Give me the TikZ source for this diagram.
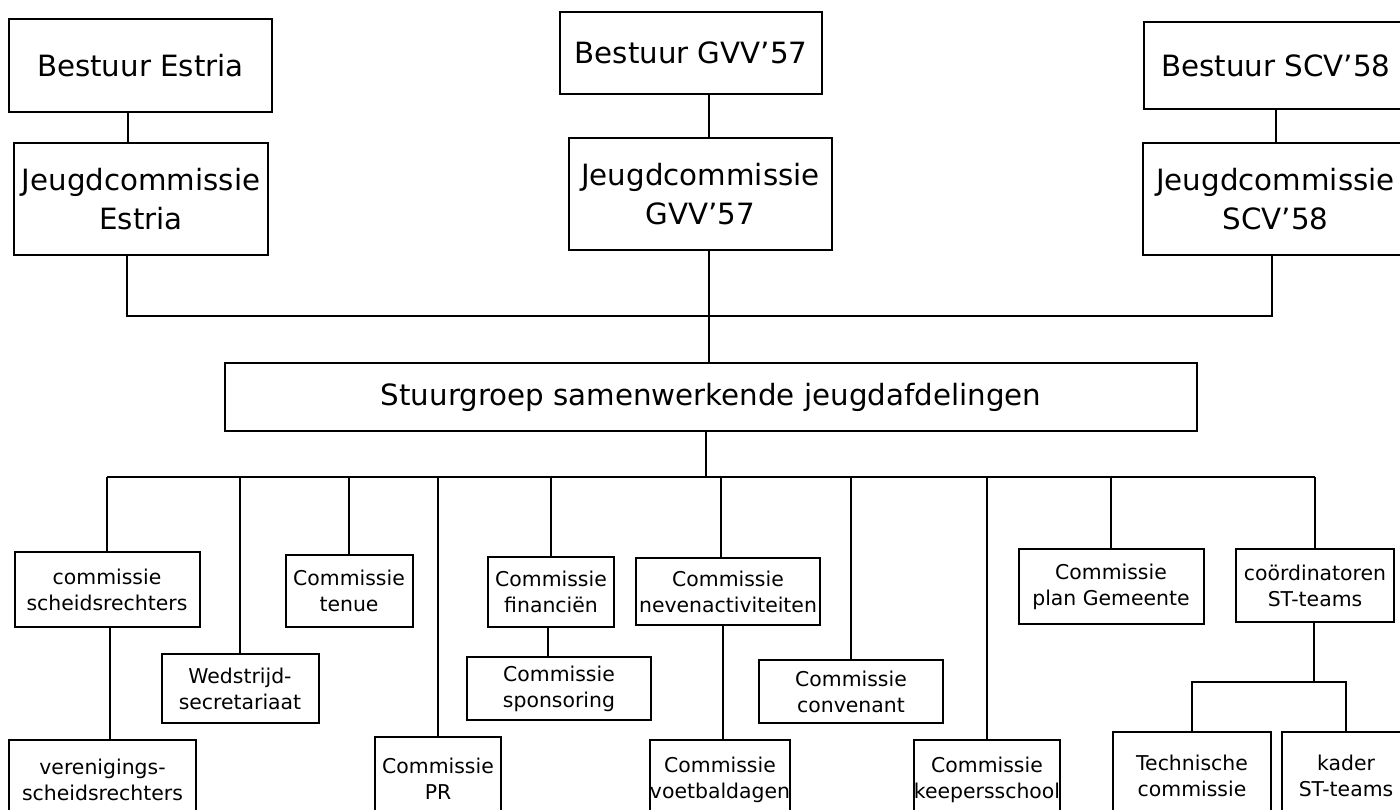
\documentclass[tikz,border=0pt]{standalone}
\usepackage{fontspec}
\setmainfont{DejaVu Sans}
\begin{document}
\begin{tikzpicture}[x=1pt,y=-1pt,
  box/.style={draw=black, line width=2pt, align=center, inner sep=0pt, text=black},
  big/.style={font=\fontsize{29.3}{39}\selectfont},
  small/.style={font=\fontsize{20.4}{26}\selectfont},
  con/.style={draw=black, line width=2pt}]
\useasboundingbox (0,0) rectangle (1400,809);
\clip (0,0) rectangle (1400,809);
\fill[white] (0,0) rectangle (1400,809);
% top level
\node[box,big,minimum width=263pt,minimum height=93pt] (best1) at (140.5,65.5) {Bestuur Estria};
\node[box,big,minimum width=254pt,minimum height=112pt] (j1) at (141,199) {Jeugdcommissie\\Estria};
\node[box,big,minimum width=262pt,minimum height=82pt] (best2) at (691,53) {Bestuur GVV'57};
\node[box,big,minimum width=263pt,minimum height=112pt] (j2) at (700.5,194) {Jeugdcommissie\\GVV'57};
\node[box,big,minimum width=264pt,minimum height=87pt] (best3) at (1276,65.5) {Bestuur SCV'58};
\node[box,big,minimum width=265pt,minimum height=112pt] (j3) at (1275.5,199) {Jeugdcommissie\\SCV'58};
\node[box,big,minimum width=972pt,minimum height=68pt] (stuur) at (711,397) {Stuurgroep samenwerkende jeugdafdelingen};
% commissions
\node[box,small,minimum width=185pt,minimum height=75pt] (cs) at (107,589.5) {commissie\\scheidsrechters};
\node[box,small,minimum width=187pt,minimum height=80pt] (ver) at (102.5,780) {verenigings-\\scheidsrechters};
\node[box,small,minimum width=157pt,minimum height=69pt] (wed) at (240,688.5) {Wedstrijd-\\secretariaat};
\node[box,small,minimum width=127pt,minimum height=72pt] (tenue) at (349,591) {Commissie\\tenue};
\node[box,small,minimum width=126pt,minimum height=83pt] (pr) at (438,778.5) {Commissie\\PR};
\node[box,small,minimum width=126pt,minimum height=70pt] (fin) at (551,592) {Commissie\\financiën};
\node[box,small,minimum width=184pt,minimum height=63pt] (spon) at (559,688.5) {Commissie\\sponsoring};
\node[box,small,minimum width=184pt,minimum height=67pt] (neven) at (728,591.5) {Commissie\\nevenactiviteiten};
\node[box,small,minimum width=138pt,minimum height=80pt] (voet) at (720,780) {Commissie\\voetbaldagen};
\node[box,small,minimum width=184pt,minimum height=63pt] (conv) at (851,691.5) {Commissie\\convenant};
\node[box,small,minimum width=145pt,minimum height=80pt] (keep) at (987,780) {Commissie\\keepersschool};
\node[box,small,minimum width=185pt,minimum height=75pt] (plan) at (1111,586.5) {Commissie\\plan Gemeente};
\node[box,small,minimum width=158pt,minimum height=73pt] (coord) at (1315,585.5) {coördinatoren\\ST-teams};
\node[box,small,minimum width=158pt,minimum height=88pt] (tech) at (1192,776) {Technische\\commissie};
\node[box,small,minimum width=128pt,minimum height=88pt] (kader) at (1346,776) {kader\\ST-teams};
% helper coordinates
\coordinate (xa) at (128,0);
\coordinate (xb) at (709,0);
\coordinate (xc) at (1276,0);
\coordinate (busL) at (127,316);
\coordinate (busR) at (1272,316);
\coordinate (xs) at (706,0);
\coordinate (bus2) at (0,477);
\coordinate (xcs) at (110,0);
\coordinate (xfin) at (548,0);
\coordinate (xnev) at (721,0);
\coordinate (xnv) at (723,0);
\coordinate (xco) at (1314,0);
\coordinate (bus3) at (0,682);
% connectors top
\draw[con] (best1.south -| xa) -- (j1.north -| xa);
\draw[con] (best2.south -| xb) -- (j2.north -| xb);
\draw[con] (best3.south -| xc) -- (j3.north -| xc);
\draw[con] (j1.south -| busL) -- (busL) -- (busR) -- (j3.south -| busR);
\draw[con] (j2.south -| xb) -- (stuur.north -| xb);
\draw[con] (stuur.south -| xs) -- (xs |- bus2);
% bottom bus
\draw[con] (cs.north |- bus2) -- (coord.north |- bus2);
\foreach \n in {cs,wed,tenue,pr,fin,conv,keep,plan,coord}
  \draw[con] (\n.north) -- (\n.north |- bus2);
\draw[con] (neven.north -| xnev) -- (xnev |- bus2);
% sub connectors
\draw[con] (cs.south -| xcs) -- (ver.north -| xcs);
\draw[con] (fin.south -| xfin) -- (spon.north -| xfin);
\draw[con] (neven.south -| xnv) -- (voet.north -| xnv);
\draw[con] (coord.south -| xco) -- (xco |- bus3);
\draw[con] (tech.north) -- (tech.north |- bus3) -- (kader.north |- bus3) -- (kader.north);
\end{tikzpicture}
\end{document}
